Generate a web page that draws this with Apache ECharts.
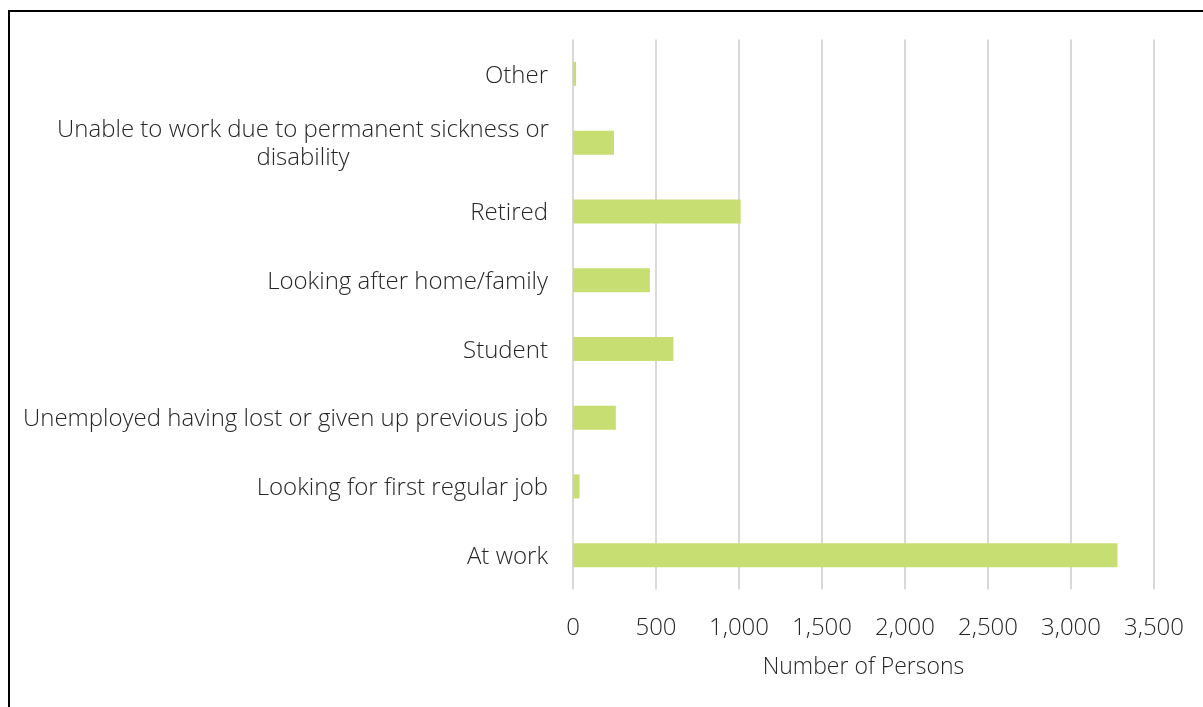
<!DOCTYPE html>
<html>
<head>
<meta charset="utf-8">
<script src="https://cdn.jsdelivr.net/npm/echarts@6/dist/echarts.min.js"></script>
<style>
html,body{margin:0;padding:0;background:#fff;}
#chart{width:1203px;height:707px;}
</style>
</head>
<body>
<div id="chart"></div>
<script>
const categories = [
  "At work",
  "Looking for first regular job",
  "Unemployed having lost or given up previous job",
  "Student",
  "Looking after home/family",
  "Retired",
  "Unable to work due to permanent sickness or\ndisability",
  "Other"
];
const values = [3280, 40, 258, 605, 463, 1010, 247, 18];
const axisName = "Number of Persons";

const chart = echarts.init(document.getElementById('chart'));
const font = "'Open Sans', 'Liberation Sans', sans-serif";
const txt = '#262626';
chart.setOption({
  animation: false,
  graphic: [{
    type: 'rect',
    shape: {x: 9, y: 11, width: 1220, height: 720},
    style: {fill: 'none', stroke: '#000', lineWidth: 2},
    silent: true
  }],
  grid: {left: 573, right: 49, top: 39.5, bottom: 117.5, containLabel: false},
  xAxis: {
    type: 'value',
    min: 0, max: 3500, interval: 500,
    name: axisName,
    nameLocation: 'middle',
    nameGap: 66,
    nameTextStyle: {fontFamily: font, fontSize: 23, fontWeight: 300, color: txt},
    axisLine: {show: false},
    axisTick: {show: false},
    axisLabel: {
      fontFamily: font, fontSize: 24, fontWeight: 300, color: txt, margin: 27,
      formatter: v => v.toLocaleString('en-US')
    },
    splitLine: {show: true, lineStyle: {color: '#d9d9d9', width: 2}}
  },
  yAxis: {
    type: 'category',
    data: categories,
    axisLine: {show: false},
    axisTick: {show: false},
    axisLabel: {
      fontFamily: font, fontSize: 24, fontWeight: 300, color: txt, margin: 25,
      lineHeight: 28, align: 'right', padding: [4, 0, 0, 0],
      formatter: function (v) {
        if (v.indexOf('\n') < 0) return v;
        return v.split('\n').map(s => '{c|' + s + '}').join('\n');
      },
      rich: {
        c: {fontFamily: font, fontSize: 24, fontWeight: 300, color: txt, lineHeight: 28, width: 490, align: 'center'}
      }
    }
  },
  series: [{
    type: 'bar',
    data: values,
    barWidth: 24,
    itemStyle: {color: '#c7df72'}
  }]
});
</script>
</body>
</html>
